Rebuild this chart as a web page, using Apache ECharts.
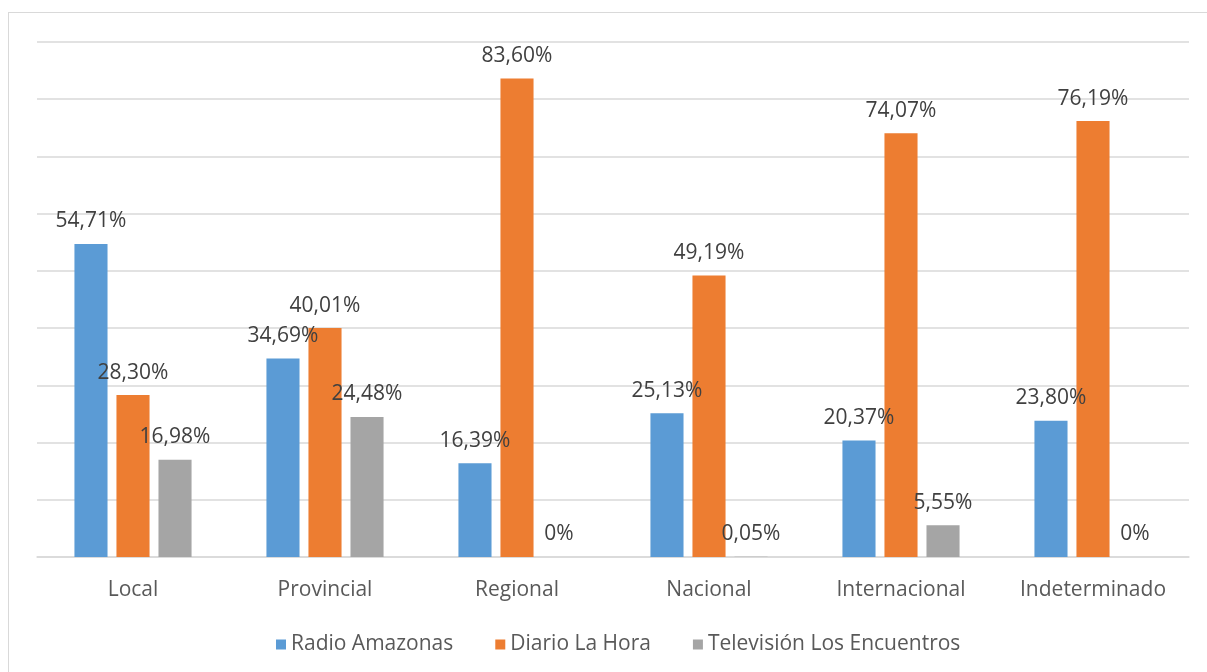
<!DOCTYPE html>
<html>
<head>
<meta charset="utf-8">
<script src="https://cdn.jsdelivr.net/npm/echarts@6/dist/echarts.min.js"></script>
<style>
  html, body { margin: 0; padding: 0; background: #fff; width: 1207px; height: 672px; overflow: hidden; position: relative; }
  #frame { position: absolute; left: 8px; top: 12px; right: 0; bottom: 0; border-left: 1px solid #d9d9d9; border-top: 1px solid #d9d9d9; }
  #chart { position: absolute; left: 0; top: 0; width: 1207px; height: 672px; }
</style>
</head>
<body>
<div id="frame"></div>
<div id="chart"></div>
<script>
const categories = ['Local', 'Provincial', 'Regional', 'Nacional', 'Internacional', 'Indeterminado'];
const seriesNames = ['Radio Amazonas', 'Diario La Hora', 'Televisión Los Encuentros'];
const radioAmazonas = [54.71, 34.69, 16.39, 25.13, 20.37, 23.80];
const diarioLaHora = [28.30, 40.01, 83.60, 49.19, 74.07, 76.19];
const television = [16.98, 24.48, 0, 0.05, 5.55, 0];
const labelTexts = [
  ['54,71%', '34,69%', '16,39%', '25,13%', '20,37%', '23,80%'],
  ['28,30%', '40,01%', '83,60%', '49,19%', '74,07%', '76,19%'],
  ['16,98%', '24,48%', '0%', '0,05%', '5,55%', '0%']
];
const colors = ['#5b9bd5', '#ed7d31', '#a5a5a5'];

const FONT = 'Open Sans';
const allValues = [radioAmazonas, diarioLaHora, television];

const series = allValues.map((vals, si) => ({
  name: seriesNames[si],
  type: 'bar',
  barGap: '27%',
  barCategoryGap: '39%',
  itemStyle: { color: colors[si] },
  data: vals,
  label: {
    show: true,
    position: 'top',
    distance: 12,
    color: '#404040',
    fontFamily: FONT,
    fontSize: 21,
    formatter: p => labelTexts[si][p.dataIndex]
  }
}));

const chart = echarts.init(document.getElementById('chart'), null, { renderer: 'canvas' });
chart.setOption({
  animation: false,
  color: colors,
  grid: { left: 37, right: 18, top: 42, bottom: 115, containLabel: false },
  legend: {
    bottom: 12,
    left: 271,
    itemWidth: 10,
    itemHeight: 10,
    itemGap: 42,
    icon: 'rect',
    textStyle: { color: '#595959', fontFamily: FONT, fontSize: 21 },
    data: seriesNames
  },
  xAxis: {
    type: 'category',
    data: categories,
    axisLine: { lineStyle: { color: '#d9d9d9', width: 1.5 } },
    axisTick: { show: false },
    axisLabel: { color: '#595959', fontFamily: FONT, fontSize: 21, margin: 23 }
  },
  yAxis: {
    type: 'value',
    min: 0,
    max: 90,
    interval: 10,
    axisLabel: { show: false },
    axisLine: { show: false },
    axisTick: { show: false },
    splitLine: { lineStyle: { color: '#d9d9d9', width: 1.5 } }
  },
  series: series
});
</script>
</body>
</html>
